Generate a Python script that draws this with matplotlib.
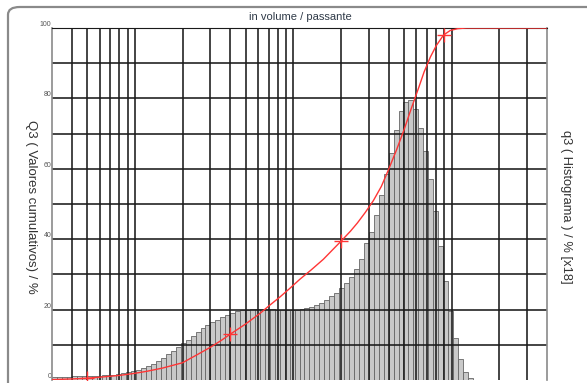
import numpy as np
import matplotlib
matplotlib.use("Agg")
import matplotlib.pyplot as plt
from matplotlib.patches import FancyBboxPatch
from matplotlib.ticker import FixedLocator, NullFormatter

plt.rcParams['font.family'] = ['Liberation Sans', 'DejaVu Sans']

# Particle-size classes: 32 geometric classes per decade starting at 0.3
class_start = 0.3
classes_per_decade = 32

# Histogram q3 (displayed scale, x18)
q3_hist = [
    0.8, 0.85, 0.9, 0.95, 1.0, 1.05, 1.1, 1.15, 1.2, 1.25,
    1.3, 1.4, 1.5, 1.7, 1.95, 2.2, 2.5, 2.9, 3.4, 4.0,
    4.6, 5.4, 6.3, 7.3, 8.3, 9.3, 10.4, 11.5, 12.6, 13.7,
    14.8, 15.6, 16.4, 17.1, 17.8, 18.5, 19.1, 19.5, 19.8, 20.0,
    20.2, 20.2, 20.2, 20.1, 20.1, 20.0, 20.0, 20.0, 20.0, 20.0,
    20.1, 20.4, 20.8, 21.3, 22.0, 22.8, 23.8, 24.8, 26.0, 27.5,
    29.3, 31.5, 34.5, 39.0, 42.0, 47.0, 52.5, 58.5, 64.5, 71.0,
    76.5, 79.0, 79.5, 77.0, 71.5, 65.0, 57.0, 48.0, 38.0, 28.0,
    19.5, 12.0, 6.0, 2.2, 0.6,
]

# Cumulative Q3 curve (size in µm, % passing)
q3_sizes = [0.3, 0.4, 0.5, 0.6, 0.8, 1.0, 1.2, 1.5, 2.0, 2.5, 3.0, 3.5,
            4.0, 5.0, 6.2, 7.0, 8.25, 9.5, 11.0, 13.0, 15.5, 18.0, 20.1,
            23.0, 25.4, 28.5, 32.1, 36.0, 39.9, 45.0, 50.0, 55.0, 61.9,
            67.0, 73.5, 80.0, 88.9, 98.0, 109, 124, 400]
q3_cum = [0.1, 0.3, 0.5, 0.8, 1.3, 1.9, 2.5, 3.4, 4.9, 7.3, 9.3, 11.2,
          13.0, 15.9, 19.0, 21.0, 23.6, 26.0, 28.6, 31.3, 34.3, 37.3, 39.5,
          42.3, 44.6, 47.6, 51.0, 55.0, 59.7, 65.5, 71.0, 76.5, 83.0,
          87.5, 91.8, 95.0, 98.0, 99.3, 99.8, 100, 100]

# Marked sieve points
mark_sizes = [0.5, 4.0, 20.1, 88.9]
mark_cum = [0.5, 13.0, 39.5, 98.0]

y_ticks = [0, 20, 40, 60, 80, 100]

W, H = 587, 383
fig = plt.figure(figsize=(W / 100, H / 100), dpi=100)
fig.patch.set_facecolor('white')

# Rounded outer frame
frame = FancyBboxPatch((8 / W, -0.2), 1.2, 1.2 - 7 / H,
                       boxstyle="round,pad=0,rounding_size=0.02",
                       transform=fig.transFigure, fill=False,
                       edgecolor='#8a8a8a', linewidth=1.6, zorder=0)
fig.patches.append(frame)

ax = fig.add_axes([52 / W, 1 - 380 / H, (547 - 52) / W, (380 - 28) / H])
ax.set_xscale('log')
ax.set_xlim(0.3, 400)
ax.set_ylim(0, 100)

# Histogram bars
n = len(q3_hist)
edges = class_start * 10 ** (np.arange(n + 1) / classes_per_decade)
ax.bar(edges[:-1], q3_hist, width=np.diff(edges), align='edge',
       color='#c9c9c9', edgecolor='#666666', linewidth=0.6, zorder=1)

# Grid
x_grid = [0.4, 0.5, 0.6, 0.7, 0.8, 0.9,
          1, 2, 3, 4, 5, 6, 7, 8, 9,
          10, 20, 30, 40, 50, 60, 70, 80, 90,
          100, 200, 300]
for xv in x_grid:
    ax.axvline(xv, color='#1a1a1a', lw=1.15, zorder=2)
for yv in range(10, 101, 10):
    ax.axhline(yv, color='#1a1a1a', lw=1.15, zorder=2)

# Cumulative curve
ax.plot(q3_sizes, q3_cum, color='#ff3535', lw=1.0, zorder=4)
ax.plot(mark_sizes, mark_cum, linestyle='none', marker='+', markersize=10,
        markeredgewidth=1.0, color='#ff3535', zorder=5)

ax.xaxis.set_major_locator(FixedLocator([]))
ax.xaxis.set_minor_locator(FixedLocator([]))
ax.xaxis.set_minor_formatter(NullFormatter())
ax.set_yticks(y_ticks)
ax.set_yticklabels([str(v) for v in y_ticks])
ax.tick_params(axis='y', length=0, pad=0.5, labelsize=5, labelcolor='#555555')
for lbl in ax.get_yticklabels():
    lbl.set_va('bottom')

for side in ['left', 'right']:
    ax.spines[side].set_color('#8a8a8a')
    ax.spines[side].set_linewidth(1.2)
ax.spines['top'].set_color('#1a1a1a')
ax.spines['bottom'].set_visible(False)

fig.text(300 / W, 1 - 17 / H, 'in volume / passante', ha='center', va='center',
         fontsize=8, color='#2f3a48')
fig.text(31 / W, 1 - 207 / H, 'Q3 ( Valores cumulativos) / %', rotation=270,
         ha='center', va='center', fontsize=9.5, color='#333333')
fig.text(566 / W, 1 - 207 / H, 'q3 ( Histograma ) / % [x18]', rotation=270,
         ha='center', va='center', fontsize=9.3, color='#333333')

fig.savefig('out.png', dpi=100)
